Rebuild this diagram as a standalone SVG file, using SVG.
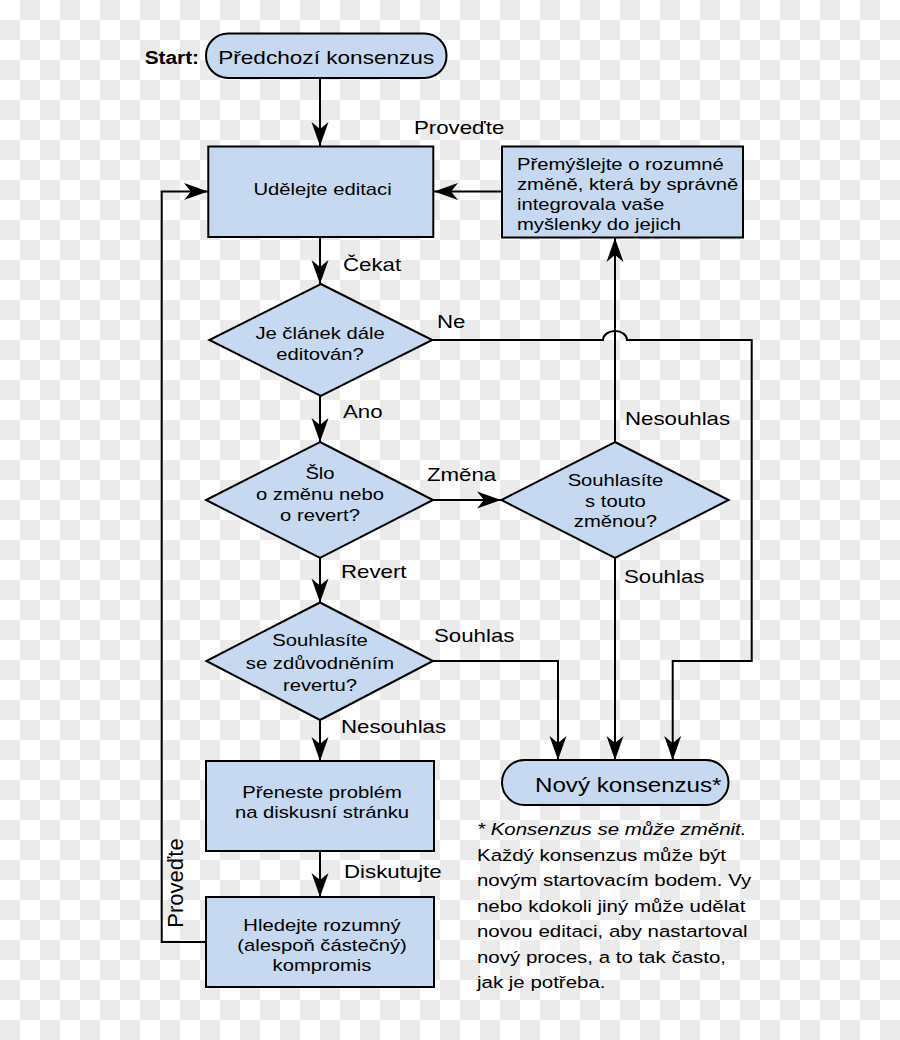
<svg xmlns="http://www.w3.org/2000/svg" width="900" height="1040" viewBox="0 0 900 1040">
<style>
  text { font-family: "Liberation Sans", Arial, sans-serif; fill: #000; }
  .b { font-size: 17px; }
  .lbl { font-size: 18.7px; }
  .big { font-size: 19px; }
  .nov { font-size: 20.3px; }
  .fn { font-size: 17.2px; }
  .st { font-size: 17.5px; font-weight: bold; }
  .m { text-anchor: middle; }
  .e { text-anchor: end; }
  .node { fill: #c6d9f0; stroke: #000; stroke-width: 2; }
  .ln { fill: none; stroke: #000; stroke-width: 2; }
  .arr { marker-end: url(#ah); }
</style>
<defs>
  <pattern id="chk" width="40" height="40" patternUnits="userSpaceOnUse">
    <rect width="40" height="40" fill="#ffffff"/>
    <rect x="20" y="0" width="20" height="20" fill="#ebebeb"/>
    <rect x="0" y="20" width="20" height="20" fill="#ebebeb"/>
  </pattern>
  <marker id="ah" markerUnits="userSpaceOnUse" viewBox="-25 -10 26 20" refX="0" refY="0" markerWidth="26" markerHeight="20" orient="auto">
    <path d="M0,0 L-24,-8.5 L-17,0 L-24,8.5 Z" fill="#000"/>
  </marker>
</defs>
<rect width="900" height="1040" fill="url(#chk)"/>

<g id="connectors">
  <path class="ln arr" d="M320,78 V146"/>
  <path class="ln arr" d="M502,191.5 H434"/>
  <path class="ln arr" d="M320,237 V284"/>
  <path class="ln" d="M432.3,340 H603 A12 9 0 0 1 627,340 H751.7 V661 H672.7"/>
  <path class="ln arr" d="M672.7,660 V760"/>
  <path class="ln arr" d="M320,396 V442"/>
  <path class="ln arr" d="M433,500 H501"/>
  <path class="ln arr" d="M615,442 V238"/>
  <path class="ln arr" d="M615,558 V760"/>
  <path class="ln arr" d="M320,558 V602.5"/>
  <path class="ln" d="M433,661 H558"/>
  <path class="ln arr" d="M558,660 V760"/>
  <path class="ln arr" d="M320,720 V761"/>
  <path class="ln arr" d="M320,851 V897"/>
  <path class="ln" d="M206,942 H161.7 V191.5"/>
  <path class="ln arr" d="M160.7,191.5 H208"/>
  <text class="lbl" transform="translate(414,134) scale(1.19,1)">Proveďte</text>
  <text class="lbl" transform="translate(343,271) scale(1.19,1)">Čekat</text>
  <text class="lbl" transform="translate(437,327.5) scale(1.19,1)">Ne</text>
  <text class="lbl" transform="translate(343,418) scale(1.19,1)">Ano</text>
  <text class="lbl" transform="translate(427,481) scale(1.19,1)">Změna</text>
  <text class="lbl" transform="translate(625,425) scale(1.19,1)">Nesouhlas</text>
  <text class="lbl" transform="translate(624,582.5) scale(1.19,1)">Souhlas</text>
  <text class="lbl" transform="translate(341,578) scale(1.19,1)">Revert</text>
  <text class="lbl" transform="translate(434,642) scale(1.19,1)">Souhlas</text>
  <text class="lbl" transform="translate(341,733) scale(1.19,1)">Nesouhlas</text>
  <text class="lbl" transform="translate(344,878) scale(1.19,1)">Diskutujte</text>
  <text style="font-size:22px" class="m" transform="translate(183,883) rotate(-90)">Proveďte</text>
</g>

<g id="start">
  <text class="st e" transform="translate(199,64) scale(1.19,1)">Start:</text>
  <rect class="node" x="206" y="33.5" width="240.5" height="44.5" rx="22" ry="22"/>
  <text class="big m" transform="translate(326.2,64) scale(1.19,1)">Předchozí konsenzus</text>
</g>

<g id="udelejte">
  <rect class="node" x="208.3" y="146.5" width="225" height="90.5"/>
  <text class="b m" transform="translate(322.5,195) scale(1.19,1)">Udělejte editaci</text>
</g>

<g id="premyslejte">
  <rect class="node" x="502" y="146.5" width="241" height="91"/>
  <text class="b" transform="translate(517,169.5) scale(1.19,1)">Přemýšlejte o rozumné</text>
  <text class="b" transform="translate(517,190) scale(1.19,1)">změně, která by správně</text>
  <text class="b" transform="translate(517,209.5) scale(1.19,1)">integrovala vaše</text>
  <text class="b" transform="translate(517,229.5) scale(1.19,1)">myšlenky do jejich</text>
</g>

<g id="editovan">
  <polygon class="node" points="320.8,284 432.3,340 320.8,396 209.3,340"/>
  <text class="b m" transform="translate(320,339.3) scale(1.19,1)">Je článek dále</text>
  <text class="b m" transform="translate(320,360) scale(1.19,1)">editován?</text>
</g>

<g id="zmena-revert">
  <polygon class="node" points="320,442 433,500 320,558 206,500"/>
  <text class="b m" transform="translate(320,479) scale(1.19,1)">Šlo</text>
  <text class="b m" transform="translate(320,500) scale(1.19,1)">o změnu nebo</text>
  <text class="b m" transform="translate(320,521) scale(1.19,1)">o revert?</text>
</g>

<g id="souhlasite-zmena">
  <polygon class="node" points="615,442 728.6,500 615,558 501.3,500"/>
  <text class="b m" transform="translate(615.4,486) scale(1.19,1)">Souhlasíte</text>
  <text class="b m" transform="translate(615.4,507) scale(1.19,1)">s touto</text>
  <text class="b m" transform="translate(615.4,527) scale(1.19,1)">změnou?</text>
</g>

<g id="souhlasite-revert">
  <polygon class="node" points="320,602.5 433,661 320,720 206.4,661"/>
  <text class="b m" transform="translate(320,646) scale(1.19,1)">Souhlasíte</text>
  <text class="b m" transform="translate(320,668.5) scale(1.19,1)">se zdůvodněním</text>
  <text class="b m" transform="translate(320,690.5) scale(1.19,1)">revertu?</text>
</g>

<g id="preneste">
  <rect class="node" x="206" y="761" width="228" height="90"/>
  <text class="b m" transform="translate(322,798) scale(1.19,1)">Přeneste problém</text>
  <text class="b m" transform="translate(322,818) scale(1.19,1)">na diskusní stránku</text>
</g>

<g id="hledejte">
  <rect class="node" x="206" y="897" width="228" height="90"/>
  <text class="b m" transform="translate(322,930.7) scale(1.19,1)">Hledejte rozumný</text>
  <text class="b m" transform="translate(322,950.7) scale(1.19,1)">(alespoň částečný)</text>
  <text class="b m" transform="translate(322,970.7) scale(1.19,1)">kompromis</text>
</g>

<g id="novy">
  <rect class="node" x="502" y="760" width="226.5" height="45" rx="22.5" ry="22.5"/>
  <text class="nov" transform="translate(535,792) scale(1.19,1)">Nový konsenzus*</text>
</g>

<g id="poznamka">
  <text class="fn" transform="translate(477,835) scale(1.19,1)" font-style="italic">* Konsenzus se může změnit.</text>
  <text class="fn" transform="translate(477,860.5) scale(1.19,1)">Každý konsenzus může být</text>
  <text class="fn" transform="translate(477,886) scale(1.19,1)">novým startovacím bodem. Vy</text>
  <text class="fn" transform="translate(477,911.5) scale(1.19,1)">nebo kdokoli jiný může udělat</text>
  <text class="fn" transform="translate(477,937) scale(1.19,1)">novou editaci, aby nastartoval</text>
  <text class="fn" transform="translate(477,962.5) scale(1.19,1)">nový proces, a to tak často,</text>
  <text class="fn" transform="translate(477,988) scale(1.19,1)">jak je potřeba.</text>
</g>
</svg>
